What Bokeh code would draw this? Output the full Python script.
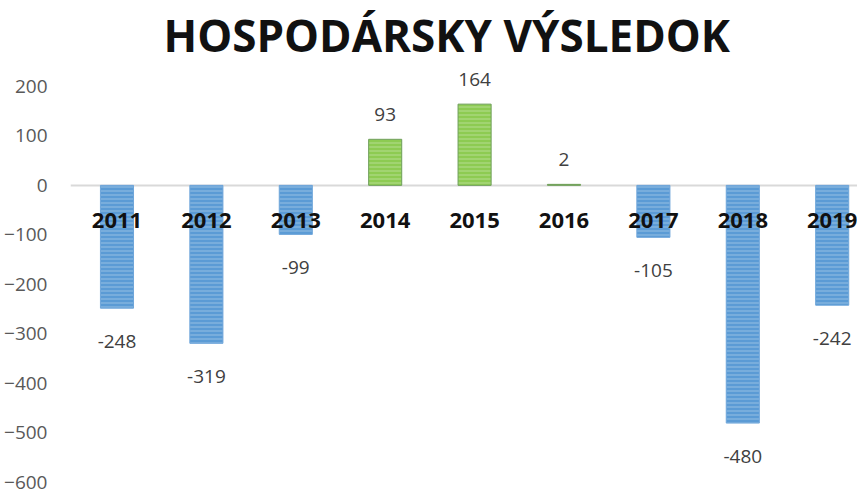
from bokeh.plotting import figure
from bokeh.models import ColumnDataSource, FixedTicker, Range1d
from bokeh.core.properties import value
from bokeh.embed import file_html
from bokeh.resources import INLINE

years = ["2011", "2012", "2013", "2014", "2015", "2016", "2017", "2018", "2019"]
results = [-248, -319, -99, 93, 164, 2, -105, -480, -242]
y_ticks = [200, 100, 0, -100, -200, -300, -400, -500, -600]
title_text = "HOSPODÁRSKY VÝSLEDOK"

BLUE = "#5B9BD5"
GREEN = "#8DCB52"

idx = list(range(len(years)))
colors = [GREEN if v >= 0 else BLUE for v in results]
lines = ["#6E9E5A" if v >= 0 else "#6FA6DA" for v in results]
offs = [-25 if v >= 0 else 33 for v in results]
labels = [str(v) for v in results]

src = ColumnDataSource(dict(x=idx, top=results, color=colors, line=lines,
                            off=offs, lab=labels, cat=years, zero=[0] * len(years)))

p = figure(width=857, height=496, output_backend="svg", toolbar_location=None,
           x_range=Range1d(-0.520, 8.283), y_range=Range1d(-600, 240),
           x_axis_location=None, title=title_text,
           min_border_left=70, min_border_right=0, min_border_bottom=14, min_border_top=66)
p.outline_line_color = None
p.background_fill_color = "white"
p.border_fill_color = "white"

p.title.text_font = "Open Sans"
p.title.text_font_style = "bold"
p.title.text_font_size = "44px"
p.title.text_color = "#111111"
p.title.align = "left"
p.title.offset = 93
p.title.standoff = 3

p.vbar(x="x", top="top", bottom=0, width=0.37, source=src,
       fill_color="color", line_color="line", line_width=1,
       hatch_pattern="horizontal_line", hatch_color="white", hatch_alpha=0.35,
       hatch_scale=4, hatch_weight=1)

p.text(x="x", y="top", text="lab", source=src, y_offset="off",
       text_align="center", text_baseline="middle",
       text_font=value("Open Sans"), text_font_size="19px", text_color="#404040")

p.text(x="x", y="zero", text="cat", source=src, y_offset=35,
       text_align="center", text_baseline="middle",
       text_font=value("Open Sans"), text_font_style="bold",
       text_font_size="22px", text_color="#111111")

p.xgrid.visible = False
p.yaxis.ticker = FixedTicker(ticks=y_ticks)
p.yaxis.axis_line_color = None
p.yaxis.major_tick_line_color = None
p.yaxis.minor_tick_line_color = None
p.yaxis.major_label_standoff = 17
p.yaxis.major_label_text_font = "Open Sans"
p.yaxis.major_label_text_font_size = "19px"
p.yaxis.major_label_text_color = "#595959"
p.ygrid.ticker = FixedTicker(ticks=[0])
p.ygrid.grid_line_color = "#D9D9D9"
p.ygrid.grid_line_width = 2

open("out.html", "w").write(file_html(p, INLINE))
